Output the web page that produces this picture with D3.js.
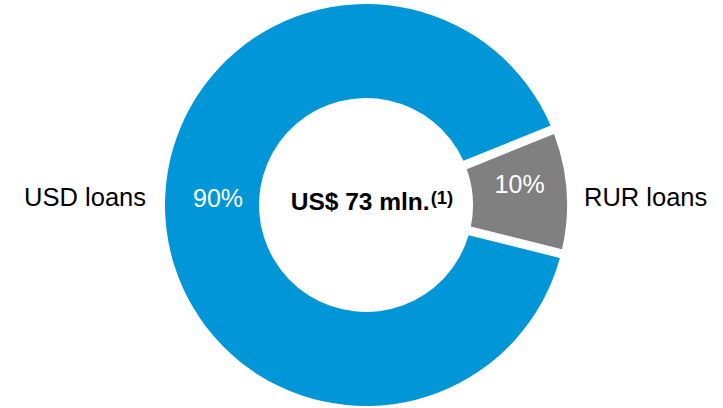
<!DOCTYPE html>
<html>
<head>
<meta charset="utf-8">
<script src="https://cdn.jsdelivr.net/npm/d3@7"></script>
<style>
  html, body { margin: 0; padding: 0; background: #fff; }
  text { font-family: "Liberation Sans", Arial, sans-serif; }
</style>
</head>
<body>
<div id="chart"></div>
<script>
// loan split
const categories = ["USD loans", "RUR loans"],
values = [90, 10],
valueLabels = ["90%", "10%"],
colors = ["#0096d8", "#808080"],
centerText = "US$ 73 mln.",
centerNote = "(1)";

const width = 723,
height = 408,
cx = 366,
cy = 205,
outerR = 201,
innerR = 107,
deg = Math.PI / 180,
startAngle = 104 * deg;

const svg = d3.select('#chart').append('svg')
    .attr('width', width)
    .attr('height', height);

const g = svg.append('g')
    .attr('transform', 'translate(' + cx + ',' + cy + ')');

const pie = d3.pie()
    .sort(null)
    .value(d => d)
    .startAngle(startAngle)
    .endAngle(startAngle + 2 * Math.PI);

const arcs = pie(values);

const arc = d3.arc()
    .innerRadius(innerR)
    .outerRadius(outerR)
    .padAngle(0.045)
    .padRadius(outerR);

g.selectAll('path')
    .data(arcs)
    .enter()
    .append('path')
    .attr('d', arc)
    .attr('fill', (d, i) => colors[i]);

// percent labels: big slice label sits on the left, small one on its centroid
const labelArc = d3.arc().innerRadius(154).outerRadius(154);
const labelPos = (d, i) => {
    if (i === 0) return d3.pointRadial(270 * deg, 148);
    return labelArc.centroid(d);
};

g.selectAll('.pct')
    .data(arcs)
    .enter()
    .append('text')
    .attr('class', 'pct')
    .attr('x', (d, i) => labelPos(d, i)[0])
    .attr('y', (d, i) => labelPos(d, i)[1] + (i === 0 ? -7 : -10))
    .attr('dy', '0.35em')
    .attr('text-anchor', 'middle')
    .attr('fill', '#fff')
    .style('font-size', '25px')
    .text((d, i) => valueLabels[i]);

// category names outside the ring
g.selectAll('.cat')
    .data(categories)
    .enter()
    .append('text')
    .attr('class', 'cat')
    .attr('x', (d, i) => i === 0 ? -outerR - 19 : outerR + 17)
    .attr('y', -8)
    .attr('dy', '0.35em')
    .attr('text-anchor', (d, i) => i === 0 ? 'end' : 'start')
    .attr('fill', '#000')
    .style('font-size', '25.5px')
    .text(d => d);

// centre total
const center = g.append('text')
    .attr('x', 6)
    .attr('y', 5)
    .attr('text-anchor', 'middle')
    .attr('fill', '#000')
    .style('font-weight', 'bold');

center.append('tspan')
    .style('font-size', '24.5px')
    .text(centerText);

center.append('tspan')
    .attr('dx', 1)
    .attr('dy', -6)
    .style('font-size', '18.5px')
    .text(centerNote);
</script>
</body>
</html>
